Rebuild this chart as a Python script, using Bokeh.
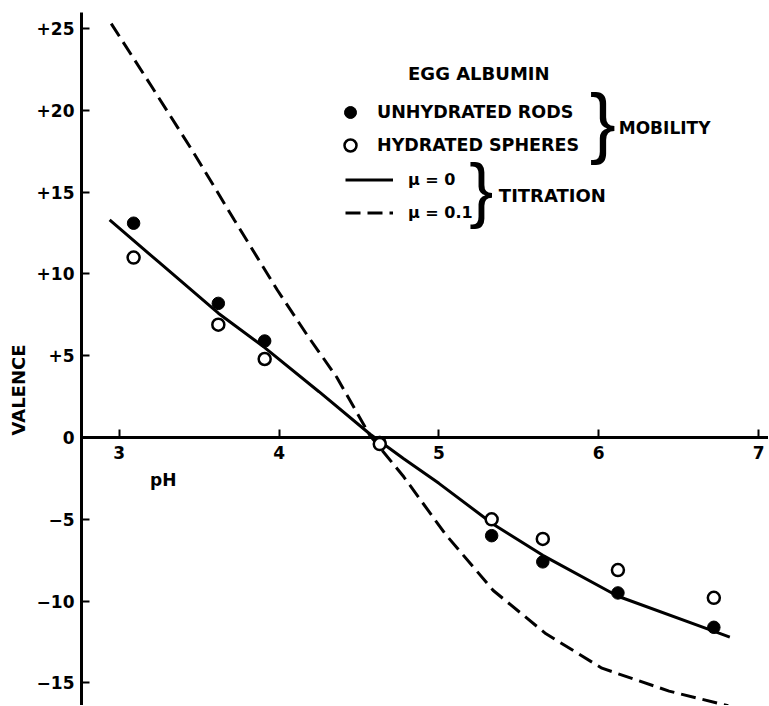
from bokeh.plotting import figure
from bokeh.models import FixedTicker, Label, Legend, LegendItem, Range1d, Title
from bokeh.embed import file_html
from bokeh.resources import INLINE

# ---- data ----
ph_points = [3.09, 3.62, 3.91, 4.63, 5.33, 5.65, 6.12, 6.72]
unhydrated_rods = [13.1, 8.2, 5.9, -0.3, -6.0, -7.6, -9.5, -11.6]
hydrated_spheres = [11.0, 6.9, 4.8, -0.4, -5.0, -6.2, -8.1, -9.8]

ph_mu0 = [2.94, 3.25, 3.62, 3.91, 4.25, 4.57, 4.78, 5.00, 5.34, 5.65, 6.12, 6.71, 6.82]
valence_mu0 = [13.3, 10.7, 7.6, 5.5, 2.8, 0.2, -1.3, -2.8, -5.3, -7.2, -9.7, -11.8, -12.2]

ph_mu01 = [2.95, 3.20, 3.46, 3.72, 3.99, 4.18, 4.36, 4.57, 4.78, 5.04, 5.34, 5.67, 6.02, 6.44, 6.81]
valence_mu01 = [25.3, 21.5, 17.5, 13.3, 9.0, 6.2, 3.7, 0.1, -2.4, -5.9, -9.35, -12.0, -14.1, -15.5, -16.4]

x_ticks = [3, 4, 5, 6, 7]
y_ticks = [-15, -10, -5, 0, 5, 10, 15, 20, 25]
y_tick_labels = ["\u221215", "\u221210", "\u22125", "0", "+5", "+10", "+15", "+20", "+25"]

FONT = "DejaVu Sans"

p = figure(width=768, height=705, output_backend="svg", toolbar_location=None,
           x_range=Range1d(2.764, 7.062), y_range=Range1d(-16.38, 25.98),
           min_border_left=76, min_border_right=0, min_border_top=12, min_border_bottom=0)
p.grid.visible = False
p.outline_line_color = None
p.background_fill_color = "white"

# axes
p.yaxis.ticker = FixedTicker(ticks=y_ticks)
p.yaxis.major_label_overrides = {t: l for t, l in zip(y_ticks, y_tick_labels)}
p.xaxis.ticker = FixedTicker(ticks=x_ticks)
p.xaxis.fixed_location = 0
for ax in (p.xaxis[0], p.yaxis[0]):
    ax.axis_line_width = 3
    ax.axis_line_color = "black"
    ax.major_tick_in = 8
    ax.major_tick_out = 0
    ax.major_tick_line_width = 2
    ax.major_tick_line_color = "black"
    ax.minor_tick_line_color = None
    ax.major_label_text_font = FONT
    ax.major_label_text_font_style = "bold"
    ax.major_label_text_font_size = "17px"
    ax.major_label_text_color = "black"
p.yaxis.major_label_standoff = 7
p.xaxis.major_label_standoff = 8

p.add_layout(Title(text="VALENCE", align="left", offset=270, text_font=FONT,
                   text_font_style="bold", text_font_size="18px", text_color="black"), "left")

# curves and points
r_solid = p.line(ph_mu0, valence_mu0, line_width=3, line_color="black")
r_dash = p.line(ph_mu01, valence_mu01, line_width=3, line_color="black", line_dash="15 7")
r_filled = p.scatter(ph_points, unhydrated_rods, size=12.5, marker="circle",
                     fill_color="black", line_color="black")
r_open = p.scatter(ph_points, hydrated_spheres, size=12, marker="circle",
                   fill_color="white", line_color="black", line_width=2.5)

def make_legend(items, loc, glyph_width, glyph_height, spacing, standoff, size):
    return Legend(items=items, location=loc, glyph_width=glyph_width, glyph_height=glyph_height,
                  label_height=glyph_height, spacing=spacing, padding=0, margin=0,
                  label_standoff=standoff, border_line_color=None, background_fill_alpha=0,
                  label_text_font=FONT, label_text_font_style="bold",
                  label_text_font_size=size, label_text_color="black")

leg1 = make_legend([LegendItem(label="UNHYDRATED RODS", renderers=[r_filled]),
                    LegendItem(label="HYDRATED SPHERES", renderers=[r_open])],
                   (254, 545), 30, 30, 3, 12, "17.5px")
leg2 = make_legend([LegendItem(label="\u03bc = 0", renderers=[r_solid]),
                    LegendItem(label="\u03bc = 0.1", renderers=[r_dash])],
                   (264, 480.5), 48, 25, 8, 15, "16px")
p.add_layout(leg1)
p.add_layout(leg2)

def txt(x, y, s, size="17px", font=FONT, style="bold", align="left"):
    p.add_layout(Label(x=x, y=y, text=s, text_font=font, text_font_style=style,
                       text_font_size=size, text_align=align, text_baseline="middle",
                       text_color="black"))

txt(4.807, 22.25, "EGG ALBUMIN", size="18px")
txt(6.125, 18.95, "MOBILITY")
txt(5.375, 14.79, "TITRATION", size="18px")
txt(6.025, 19.3, "}", size="78px", font="Liberation Sans", style="normal", align="center")
txt(5.265, 15.2, "}", size="72px", font="Liberation Sans", style="normal", align="center")
txt(3.193, -2.57, "pH")

open("out.html", "w").write(file_html(p, INLINE))
